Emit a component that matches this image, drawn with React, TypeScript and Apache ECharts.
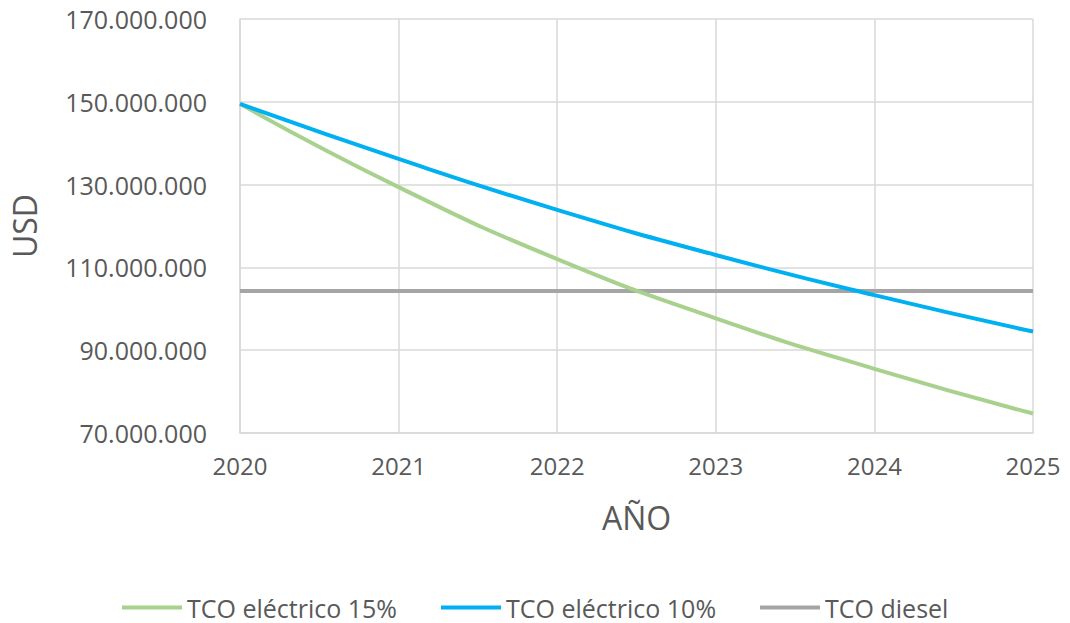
import React, { useEffect, useRef } from "react";
import * as echarts from "echarts";

const years = [2020, 2021, 2022, 2023, 2024, 2025];
const tcoElectrico15 = [149.5e6, 129.4e6, 112.0e6, 97.7e6, 85.5e6, 74.7e6];
const tcoElectrico10 = [149.5e6, 136.2e6, 123.9e6, 113.0e6, 103.3e6, 94.5e6];
const tcoDiesel = [104.3e6, 104.3e6, 104.3e6, 104.3e6, 104.3e6, 104.3e6];
const yTicks = [70e6, 90e6, 110e6, 130e6, 150e6, 170e6];

const seriesNames = ["TCO eléctrico 15%", "TCO eléctrico 10%", "TCO diesel"];
const colors = ["#a9d18e", "#00b0f0", "#a5a5a5"];

const FONT = "'Open Sans', sans-serif";
const TXT = "#595959";
const GRIDC = "#d9d9d9";

function fmt(v: number) {
  return Math.round(v)
    .toString()
    .replace(/\B(?=(\d{3})+(?!\d))/g, ".");
}

export default function App() {
  const ref = useRef<HTMLDivElement>(null);
  useEffect(() => {
    if (!ref.current) return;
    const chart = echarts.init(ref.current, null, { renderer: "svg" });
    const datasets = [tcoElectrico15, tcoElectrico10, tcoDiesel];
    chart.setOption({
      animation: false,
      textStyle: { fontFamily: FONT },
      grid: { left: 239, right: 37, top: 19, bottom: 190, containLabel: false },
      xAxis: {
        type: "value",
        min: 2020,
        max: 2025,
        interval: 1,
        name: "AÑO",
        nameLocation: "middle",
        nameGap: 68,
        nameTextStyle: { fontSize: 32, color: TXT, fontFamily: FONT },
        axisLine: { show: true, lineStyle: { color: GRIDC, width: 1.5 } },
        axisTick: { show: false },
        axisLabel: { color: TXT, fontSize: 24, fontFamily: FONT, margin: 20, formatter: (v: number) => String(v) },
        splitLine: { show: true, lineStyle: { color: GRIDC, width: 1.5 } },
      },
      yAxis: {
        type: "value",
        min: 70e6,
        max: 170e6,
        name: "USD",
        nameLocation: "middle",
        nameGap: 200,
        nameTextStyle: { fontSize: 32, color: TXT, fontFamily: FONT },
        axisLine: { show: true, lineStyle: { color: GRIDC, width: 1.5 } },
        axisTick: { show: false, customValues: yTicks },
        axisLabel: { color: TXT, fontSize: 25, fontFamily: FONT, margin: 33, customValues: yTicks, formatter: (v: number) => fmt(v) },
        splitLine: { show: true, lineStyle: { color: GRIDC, width: 1.5 } },
      },
      legend: {
        left: 117,
        top: 590,
        itemWidth: 60,
        itemHeight: 4,
        itemGap: 44,
        icon: "rect",
        textStyle: { color: TXT, fontSize: 25, fontFamily: FONT },
        data: seriesNames,
      },
      series: seriesNames.map((name, i) => ({
        name,
        type: "line",
        smooth: true,
        symbol: "none",
        data: years.map((y, j) => [y, datasets[i][j]]),
        lineStyle: { color: colors[i], width: 4 },
        itemStyle: { color: colors[i] },
        z: i === 2 ? 2 : 3,
      })),
    });
    return () => chart.dispose();
  }, []);
  return <div ref={ref} style={{ position: "absolute", left: 0, top: 0, width: 1070, height: 623 }} />;
}
